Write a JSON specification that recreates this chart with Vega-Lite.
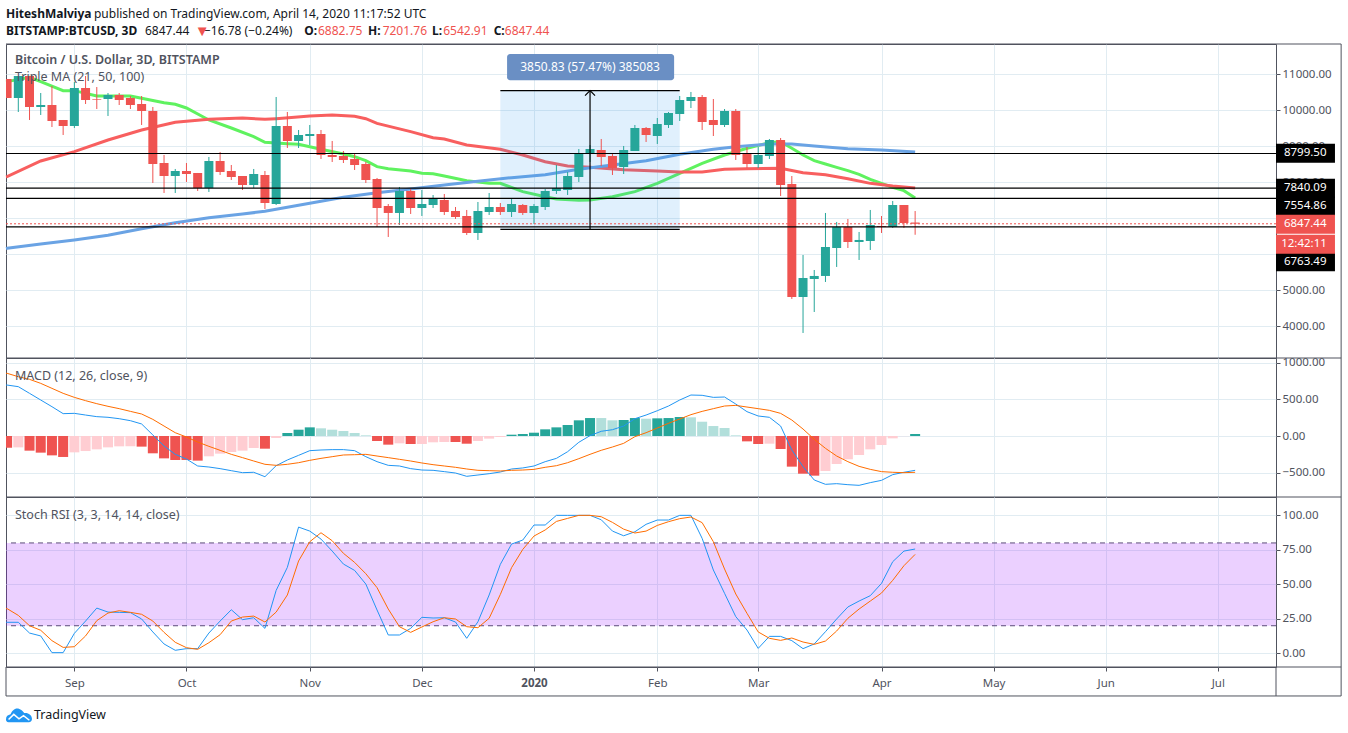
{
  "$schema": "https://vega.github.io/schema/vega-lite/v6.json",
  "background": "white",
  "padding": {"left": -1, "top": 7, "right": 0, "bottom": 0},
  "config": {
    "view": {"stroke": "#50535e", "strokeWidth": 1},
    "text": {"font": "Noto Sans"},
    "axis": {"labelFont": "Noto Sans", "labelFontSize": 11.5, "labelColor": "#50535e", "gridColor": "#e1ecf2", "gridWidth": 1, "tickColor": "#50535e", "tickSize": 4}
  },
  "datasets": {
    "candles": [
      {"i":0,"o":10870,"h":10870,"l":10342,"c":10342,"dir":"down"},
      {"i":1,"o":10342,"h":10953,"l":9953,"c":10953,"dir":"up"},
      {"i":2,"o":10953,"h":10953,"l":9731,"c":10092,"dir":"down"},
      {"i":3,"o":10092,"h":10481,"l":9870,"c":10147,"dir":"up"},
      {"i":4,"o":10147,"h":10675,"l":9536,"c":9703,"dir":"down"},
      {"i":5,"o":9731,"h":9731,"l":9314,"c":9564,"dir":"down"},
      {"i":6,"o":9564,"h":10786,"l":9509,"c":10620,"dir":"up"},
      {"i":7,"o":10620,"h":10953,"l":10175,"c":10286,"dir":"down"},
      {"i":8,"o":10314,"h":10647,"l":10036,"c":10296,"dir":"down"},
      {"i":9,"o":10314,"h":10481,"l":9842,"c":10425,"dir":"up"},
      {"i":10,"o":10425,"h":10481,"l":10147,"c":10286,"dir":"down"},
      {"i":11,"o":10342,"h":10397,"l":10036,"c":10147,"dir":"down"},
      {"i":12,"o":10175,"h":10397,"l":9592,"c":9981,"dir":"down"},
      {"i":13,"o":9981,"h":10092,"l":7981,"c":8509,"dir":"down"},
      {"i":14,"o":8536,"h":8759,"l":7703,"c":8175,"dir":"down"},
      {"i":15,"o":8175,"h":8370,"l":7703,"c":8314,"dir":"up"},
      {"i":16,"o":8314,"h":8536,"l":8009,"c":8231,"dir":"down"},
      {"i":17,"o":8259,"h":8259,"l":7759,"c":7842,"dir":"down"},
      {"i":18,"o":7842,"h":8703,"l":7731,"c":8592,"dir":"up"},
      {"i":19,"o":8592,"h":8842,"l":8203,"c":8286,"dir":"down"},
      {"i":20,"o":8314,"h":8481,"l":8064,"c":8147,"dir":"down"},
      {"i":21,"o":8175,"h":8175,"l":7786,"c":7925,"dir":"down"},
      {"i":22,"o":7925,"h":8370,"l":7842,"c":8231,"dir":"up"},
      {"i":23,"o":8203,"h":8314,"l":7259,"c":7425,"dir":"down"},
      {"i":24,"o":7397,"h":10370,"l":7370,"c":9564,"dir":"up"},
      {"i":25,"o":9564,"h":9953,"l":8953,"c":9148,"dir":"down"},
      {"i":26,"o":9148,"h":9453,"l":8953,"c":9314,"dir":"up"},
      {"i":27,"o":9286,"h":9592,"l":9036,"c":9342,"dir":"up"},
      {"i":28,"o":9342,"h":9453,"l":8648,"c":8759,"dir":"down"},
      {"i":29,"o":8759,"h":9148,"l":8564,"c":8703,"dir":"down"},
      {"i":30,"o":8731,"h":8870,"l":8536,"c":8620,"dir":"down"},
      {"i":31,"o":8648,"h":8814,"l":8342,"c":8481,"dir":"down"},
      {"i":32,"o":8509,"h":8564,"l":7981,"c":8064,"dir":"down"},
      {"i":33,"o":8092,"h":8120,"l":6759,"c":7286,"dir":"down"},
      {"i":34,"o":7342,"h":7397,"l":6481,"c":7148,"dir":"down"},
      {"i":35,"o":7148,"h":7870,"l":6814,"c":7759,"dir":"up"},
      {"i":36,"o":7759,"h":7814,"l":7120,"c":7286,"dir":"down"},
      {"i":37,"o":7286,"h":7786,"l":7064,"c":7397,"dir":"up"},
      {"i":38,"o":7370,"h":7647,"l":7286,"c":7536,"dir":"up"},
      {"i":39,"o":7509,"h":7675,"l":7092,"c":7175,"dir":"down"},
      {"i":40,"o":7203,"h":7314,"l":6981,"c":7036,"dir":"down"},
      {"i":41,"o":7064,"h":7231,"l":6536,"c":6592,"dir":"down"},
      {"i":42,"o":6592,"h":7453,"l":6398,"c":7203,"dir":"up"},
      {"i":43,"o":7175,"h":7703,"l":7092,"c":7314,"dir":"up"},
      {"i":44,"o":7314,"h":7425,"l":7092,"c":7175,"dir":"down"},
      {"i":45,"o":7175,"h":7536,"l":7036,"c":7397,"dir":"up"},
      {"i":46,"o":7370,"h":7397,"l":7092,"c":7148,"dir":"down"},
      {"i":47,"o":7148,"h":7397,"l":6842,"c":7342,"dir":"up"},
      {"i":48,"o":7314,"h":7814,"l":7231,"c":7759,"dir":"up"},
      {"i":49,"o":7759,"h":8481,"l":7675,"c":7842,"dir":"up"},
      {"i":50,"o":7786,"h":8286,"l":7647,"c":8175,"dir":"up"},
      {"i":51,"o":8147,"h":8925,"l":8009,"c":8814,"dir":"up"},
      {"i":52,"o":8786,"h":9036,"l":8564,"c":8925,"dir":"up"},
      {"i":53,"o":8897,"h":9203,"l":8453,"c":8703,"dir":"down"},
      {"i":54,"o":8731,"h":8786,"l":8203,"c":8397,"dir":"down"},
      {"i":55,"o":8425,"h":9009,"l":8231,"c":8897,"dir":"up"},
      {"i":56,"o":8870,"h":9592,"l":8870,"c":9509,"dir":"up"},
      {"i":57,"o":9509,"h":9536,"l":9120,"c":9314,"dir":"down"},
      {"i":58,"o":9286,"h":9786,"l":9064,"c":9620,"dir":"up"},
      {"i":59,"o":9592,"h":9953,"l":9509,"c":9925,"dir":"up"},
      {"i":60,"o":9898,"h":10397,"l":9703,"c":10286,"dir":"up"},
      {"i":61,"o":10259,"h":10509,"l":10064,"c":10370,"dir":"up"},
      {"i":62,"o":10370,"h":10425,"l":9453,"c":9675,"dir":"down"},
      {"i":63,"o":9731,"h":10314,"l":9286,"c":9592,"dir":"down"},
      {"i":64,"o":9592,"h":10036,"l":9536,"c":9981,"dir":"up"},
      {"i":65,"o":9981,"h":10036,"l":8620,"c":8759,"dir":"down"},
      {"i":66,"o":8786,"h":8981,"l":8397,"c":8509,"dir":"down"},
      {"i":67,"o":8509,"h":8981,"l":8397,"c":8759,"dir":"up"},
      {"i":68,"o":8731,"h":9203,"l":8648,"c":9175,"dir":"up"},
      {"i":69,"o":9175,"h":9231,"l":7620,"c":7925,"dir":"down"},
      {"i":70,"o":7953,"h":8175,"l":4759,"c":4814,"dir":"down"},
      {"i":71,"o":4814,"h":5981,"l":3814,"c":5342,"dir":"up"},
      {"i":72,"o":5314,"h":5564,"l":4397,"c":5398,"dir":"up"},
      {"i":73,"o":5398,"h":7148,"l":5231,"c":6203,"dir":"up"},
      {"i":74,"o":6175,"h":6898,"l":5648,"c":6759,"dir":"up"},
      {"i":75,"o":6759,"h":6981,"l":6175,"c":6342,"dir":"down"},
      {"i":76,"o":6342,"h":6620,"l":5842,"c":6398,"dir":"up"},
      {"i":77,"o":6370,"h":7231,"l":6120,"c":6814,"dir":"up"},
      {"i":78,"o":6786,"h":7064,"l":6592,"c":6759,"dir":"down"},
      {"i":79,"o":6759,"h":7481,"l":6731,"c":7370,"dir":"up"},
      {"i":80,"o":7370,"h":7370,"l":6731,"c":6870,"dir":"down"},
      {"i":81,"o":6882.75,"h":7201.76,"l":6542.91,"c":6847.44,"dir":"down"}
    ],
    "ma": [
      {"i":-0.098,"ma":"21","v":10790},{"i":0,"ma":"21","v":10796},{"i":2,"ma":"21","v":10916},{"i":3,"ma":"21","v":10796},{"i":5,"ma":"21","v":10546},{"i":6,"ma":"21","v":10546},{"i":8,"ma":"21","v":10397},{"i":11,"ma":"21","v":10397},{"i":12,"ma":"21","v":10333},{"i":14,"ma":"21","v":10212},{"i":15,"ma":"21","v":10166},{"i":16,"ma":"21","v":10064},{"i":18,"ma":"21","v":9731},{"i":20,"ma":"21","v":9509},{"i":22,"ma":"21","v":9268},{"i":23,"ma":"21","v":9110},{"i":25,"ma":"21","v":9073},{"i":26,"ma":"21","v":9055},{"i":28,"ma":"21","v":8916},{"i":30,"ma":"21","v":8786},{"i":31,"ma":"21","v":8712},{"i":32,"ma":"21","v":8601},{"i":33,"ma":"21","v":8435},{"i":34,"ma":"21","v":8379},{"i":36,"ma":"21","v":8314},{"i":37,"ma":"21","v":8249},{"i":38,"ma":"21","v":8240},{"i":39,"ma":"21","v":8175},{"i":41,"ma":"21","v":8046},{"i":43,"ma":"21","v":7971},{"i":44,"ma":"21","v":7971},{"i":46,"ma":"21","v":7740},{"i":48,"ma":"21","v":7601},{"i":49,"ma":"21","v":7536},{"i":51,"ma":"21","v":7499},{"i":52,"ma":"21","v":7509},{"i":54,"ma":"21","v":7601},{"i":56,"ma":"21","v":7740},{"i":58,"ma":"21","v":7971},{"i":60,"ma":"21","v":8249},{"i":62,"ma":"21","v":8527},{"i":64,"ma":"21","v":8759},{"i":66,"ma":"21","v":8944},{"i":68,"ma":"21","v":9101},{"i":69,"ma":"21","v":9129},{"i":70,"ma":"21","v":8944},{"i":71,"ma":"21","v":8759},{"i":72,"ma":"21","v":8601},{"i":73,"ma":"21","v":8509},{"i":74,"ma":"21","v":8416},{"i":75,"ma":"21","v":8323},{"i":76,"ma":"21","v":8222},{"i":77,"ma":"21","v":8083},{"i":78,"ma":"21","v":7971},{"i":79,"ma":"21","v":7861},{"i":80,"ma":"21","v":7768},{"i":81,"ma":"21","v":7564},
      {"i":-0.098,"ma":"50","v":8150},{"i":0,"ma":"50","v":8157},{"i":3,"ma":"50","v":8592},{"i":6,"ma":"50","v":8851},{"i":9,"ma":"50","v":9175},{"i":12,"ma":"50","v":9453},{"i":15,"ma":"50","v":9666},{"i":18,"ma":"50","v":9749},{"i":21,"ma":"50","v":9786},{"i":23,"ma":"50","v":9749},{"i":24,"ma":"50","v":9768},{"i":27,"ma":"50","v":9842},{"i":29,"ma":"50","v":9870},{"i":31,"ma":"50","v":9833},{"i":32,"ma":"50","v":9768},{"i":33,"ma":"50","v":9638},{"i":36,"ma":"50","v":9407},{"i":38,"ma":"50","v":9240},{"i":39,"ma":"50","v":9203},{"i":41,"ma":"50","v":9036},{"i":44,"ma":"50","v":8916},{"i":46,"ma":"50","v":8759},{"i":48,"ma":"50","v":8573},{"i":50,"ma":"50","v":8453},{"i":52,"ma":"50","v":8416},{"i":55,"ma":"50","v":8351},{"i":58,"ma":"50","v":8314},{"i":60,"ma":"50","v":8286},{"i":62,"ma":"50","v":8286},{"i":64,"ma":"50","v":8361},{"i":66,"ma":"50","v":8379},{"i":69,"ma":"50","v":8388},{"i":71,"ma":"50","v":8268},{"i":73,"ma":"50","v":8212},{"i":75,"ma":"50","v":8101},{"i":77,"ma":"50","v":7971},{"i":79,"ma":"50","v":7897},{"i":81,"ma":"50","v":7842},
      {"i":-0.098,"ma":"100","v":6160},{"i":0,"ma":"100","v":6166},{"i":3,"ma":"100","v":6287},{"i":6,"ma":"100","v":6398},{"i":9,"ma":"100","v":6527},{"i":12,"ma":"100","v":6712},{"i":15,"ma":"100","v":6879},{"i":18,"ma":"100","v":7018},{"i":21,"ma":"100","v":7120},{"i":23,"ma":"100","v":7194},{"i":27,"ma":"100","v":7416},{"i":30,"ma":"100","v":7583},{"i":33,"ma":"100","v":7712},{"i":36,"ma":"100","v":7814},{"i":39,"ma":"100","v":7925},{"i":42,"ma":"100","v":8027},{"i":45,"ma":"100","v":8129},{"i":48,"ma":"100","v":8212},{"i":51,"ma":"100","v":8361},{"i":54,"ma":"100","v":8481},{"i":57,"ma":"100","v":8601},{"i":60,"ma":"100","v":8777},{"i":63,"ma":"100","v":8916},{"i":65,"ma":"100","v":8990},{"i":68,"ma":"100","v":9064},{"i":70,"ma":"100","v":9064},{"i":72,"ma":"100","v":9009},{"i":75,"ma":"100","v":8935},{"i":78,"ma":"100","v":8897},{"i":81,"ma":"100","v":8842}
    ],
    "levels": [{"price":8799.5},{"price":7840.09},{"price":7554.86},{"price":6763.49}],
    "last": [{"price":6847.44}],
    "measure": [{"from":44,"to":60,"low":6694,"high":10545,"mid":52}],
    "measureBox": [{"from":44.6,"to":59.5,"low":10833,"high":11564,"mid":52,"price":11198,"label":"3850.83 (57.47%) 385083"}],
    "tags": [
      {"i":113.19,"to":118.45,"tx":113.9,"at":8805,"label":"8799.50","kind":"level"},
      {"i":113.19,"to":118.45,"tx":113.9,"at":7833,"label":"7840.09","kind":"level"},
      {"i":113.19,"to":118.45,"tx":113.9,"at":7333,"label":"7554.86","kind":"level"},
      {"i":113.19,"to":118.45,"tx":113.9,"at":5796,"label":"6763.49","kind":"level"},
      {"i":113.19,"to":118.45,"tx":113.9,"at":6833,"label":"6847.44","kind":"last"},
      {"i":113.19,"to":118.45,"tx":113.65,"at":6277,"label":"12:42:11","kind":"last"}
    ],
    "headerBold": [
      {"label":"HiteshMalviya","i":-0.1,"price":12675,"kind":"dark"},
      {"label":"BITSTAMP:BTCUSD, 3D","i":-0.1,"price":12217,"kind":"dark"},
      {"label":"O:","i":26.5,"price":12217,"kind":"dark"},
      {"label":"H:","i":32.2,"price":12217,"kind":"dark"},
      {"label":"L:","i":37.9,"price":12217,"kind":"dark"},
      {"label":"C:","i":43.4,"price":12217,"kind":"dark"}
    ],
    "headerLine": [
      {"label":"published on TradingView.com, April 14, 2020 11:17:52 UTC","i":7.75,"price":12675}
    ],
    "headerPlain": [
      {"label":"6847.44","i":12.3,"price":12217,"kind":"dark"},
      {"label":"−16.78 (−0.24%)","i":17.56,"price":12217,"kind":"dark"},
      {"label":"6882.75","i":27.73,"price":12217,"kind":"red"},
      {"label":"7201.76","i":33.5,"price":12217,"kind":"red"},
      {"label":"6542.91","i":38.9,"price":12217,"kind":"red"},
      {"label":"6847.44","i":44.4,"price":12217,"kind":"red"}
    ],
    "hist": [
      {"i":0,"h":-159,"s":"fall"},{"i":1,"h":-155,"s":"ease"},{"i":2,"h":-200,"s":"fall"},{"i":3,"h":-227,"s":"fall"},{"i":4,"h":-264,"s":"fall"},{"i":5,"h":-286,"s":"fall"},{"i":6,"h":-223,"s":"ease"},{"i":7,"h":-205,"s":"ease"},{"i":8,"h":-182,"s":"ease"},{"i":9,"h":-155,"s":"ease"},{"i":10,"h":-141,"s":"ease"},{"i":11,"h":-141,"s":"ease"},{"i":12,"h":-145,"s":"fall"},{"i":13,"h":-236,"s":"fall"},{"i":14,"h":-305,"s":"fall"},{"i":15,"h":-327,"s":"fall"},{"i":16,"h":-327,"s":"fall"},{"i":17,"h":-336,"s":"fall"},{"i":18,"h":-277,"s":"ease"},{"i":19,"h":-241,"s":"ease"},{"i":20,"h":-218,"s":"ease"},{"i":21,"h":-200,"s":"ease"},{"i":22,"h":-164,"s":"ease"},{"i":23,"h":-173,"s":"fall"},{"i":24,"h":-27,"s":"ease"},{"i":25,"h":41,"s":"rise"},{"i":26,"h":86,"s":"rise"},{"i":27,"h":118,"s":"rise"},{"i":28,"h":105,"s":"fade"},{"i":29,"h":86,"s":"fade"},{"i":30,"h":68,"s":"fade"},{"i":31,"h":41,"s":"fade"},{"i":32,"h":9,"s":"fade"},{"i":33,"h":-68,"s":"fall"},{"i":34,"h":-118,"s":"fall"},{"i":35,"h":-100,"s":"ease"},{"i":36,"h":-109,"s":"fall"},{"i":37,"h":-109,"s":"ease"},{"i":38,"h":-86,"s":"ease"},{"i":39,"h":-82,"s":"ease"},{"i":40,"h":-82,"s":"fall"},{"i":41,"h":-105,"s":"fall"},{"i":42,"h":-68,"s":"ease"},{"i":43,"h":-36,"s":"ease"},{"i":44,"h":-14,"s":"ease"},{"i":45,"h":18,"s":"rise"},{"i":46,"h":27,"s":"rise"},{"i":47,"h":45,"s":"rise"},{"i":48,"h":91,"s":"rise"},{"i":49,"h":118,"s":"rise"},{"i":50,"h":150,"s":"rise"},{"i":51,"h":214,"s":"rise"},{"i":52,"h":245,"s":"rise"},{"i":53,"h":245,"s":"fade"},{"i":54,"h":214,"s":"fade"},{"i":55,"h":218,"s":"rise"},{"i":56,"h":245,"s":"rise"},{"i":57,"h":236,"s":"fade"},{"i":58,"h":241,"s":"rise"},{"i":59,"h":245,"s":"rise"},{"i":60,"h":259,"s":"rise"},{"i":61,"h":255,"s":"fade"},{"i":62,"h":195,"s":"fade"},{"i":63,"h":136,"s":"fade"},{"i":64,"h":109,"s":"fade"},{"i":65,"h":9,"s":"fade"},{"i":66,"h":-73,"s":"fall"},{"i":67,"h":-109,"s":"fall"},{"i":68,"h":-105,"s":"ease"},{"i":69,"h":-177,"s":"fall"},{"i":70,"h":-418,"s":"fall"},{"i":71,"h":-514,"s":"fall"},{"i":72,"h":-541,"s":"fall"},{"i":73,"h":-477,"s":"ease"},{"i":74,"h":-382,"s":"ease"},{"i":75,"h":-318,"s":"ease"},{"i":76,"h":-259,"s":"ease"},{"i":77,"h":-182,"s":"ease"},{"i":78,"h":-123,"s":"ease"},{"i":79,"h":-32,"s":"ease"},{"i":80,"h":-2,"s":"ease"},{"i":81,"h":27,"s":"rise"}
    ],
    "macd": [
      {"i":-0.098,"m":695,"sig":855},{"i":0,"m":695,"sig":855},{"i":1,"m":673,"sig":809},{"i":2,"m":582,"sig":773},{"i":3,"m":491,"sig":718},{"i":4,"m":400,"sig":650},{"i":5,"m":305,"sig":582},{"i":6,"m":309,"sig":527},{"i":7,"m":286,"sig":482},{"i":8,"m":264,"sig":441},{"i":9,"m":255,"sig":405},{"i":10,"m":236,"sig":373},{"i":11,"m":209,"sig":336},{"i":12,"m":164,"sig":300},{"i":13,"m":14,"sig":227},{"i":14,"m":-136,"sig":136},{"i":15,"m":-250,"sig":45},{"i":16,"m":-314,"sig":-14},{"i":17,"m":-409,"sig":-82},{"i":18,"m":-423,"sig":-141},{"i":19,"m":-445,"sig":-195},{"i":20,"m":-473,"sig":-250},{"i":21,"m":-500,"sig":-295},{"i":22,"m":-495,"sig":-341},{"i":23,"m":-555,"sig":-386},{"i":24,"m":-405,"sig":-400},{"i":25,"m":-327,"sig":-386},{"i":26,"m":-264,"sig":-364},{"i":27,"m":-200,"sig":-332},{"i":28,"m":-191,"sig":-305},{"i":29,"m":-186,"sig":-282},{"i":30,"m":-186,"sig":-259},{"i":31,"m":-200,"sig":-255},{"i":32,"m":-282,"sig":-250},{"i":33,"m":-350,"sig":-273},{"i":34,"m":-400,"sig":-295},{"i":35,"m":-409,"sig":-318},{"i":36,"m":-445,"sig":-341},{"i":37,"m":-464,"sig":-368},{"i":38,"m":-468,"sig":-391},{"i":39,"m":-486,"sig":-409},{"i":40,"m":-505,"sig":-427},{"i":41,"m":-550,"sig":-450},{"i":42,"m":-532,"sig":-468},{"i":43,"m":-514,"sig":-473},{"i":44,"m":-491,"sig":-477},{"i":45,"m":-450,"sig":-468},{"i":46,"m":-436,"sig":-464},{"i":47,"m":-409,"sig":-455},{"i":48,"m":-350,"sig":-427},{"i":49,"m":-305,"sig":-405},{"i":50,"m":-214,"sig":-364},{"i":51,"m":-86,"sig":-309},{"i":52,"m":5,"sig":-250},{"i":53,"m":64,"sig":-195},{"i":54,"m":86,"sig":-150},{"i":55,"m":136,"sig":-100},{"i":56,"m":236,"sig":-9},{"i":57,"m":286,"sig":45},{"i":58,"m":345,"sig":109},{"i":59,"m":409,"sig":173},{"i":60,"m":491,"sig":232},{"i":61,"m":559,"sig":291},{"i":62,"m":555,"sig":336},{"i":63,"m":527,"sig":373},{"i":64,"m":532,"sig":409},{"i":65,"m":436,"sig":418},{"i":66,"m":332,"sig":395},{"i":67,"m":273,"sig":373},{"i":68,"m":255,"sig":350},{"i":69,"m":136,"sig":309},{"i":70,"m":-191,"sig":218},{"i":71,"m":-418,"sig":95},{"i":72,"m":-600,"sig":-45},{"i":73,"m":-659,"sig":-168},{"i":74,"m":-650,"sig":-273},{"i":75,"m":-664,"sig":-350},{"i":76,"m":-673,"sig":-414},{"i":77,"m":-636,"sig":-455},{"i":78,"m":-605,"sig":-486},{"i":79,"m":-527,"sig":-495},{"i":80,"m":-495,"sig":-500},{"i":81,"m":-468,"sig":-495}
    ],
    "stoch": [
      {"i":-0.098,"k":22.5,"d":32.4},{"i":0,"k":22.5,"d":32.4},{"i":1,"k":22.5,"d":27.5},{"i":2,"k":14.7,"d":20},{"i":3,"k":12.6,"d":16.7},{"i":4,"k":0.5,"d":9.2},{"i":5,"k":0.5,"d":4.3},{"i":6,"k":14.5,"d":4.8},{"i":7,"k":23.4,"d":12.6},{"i":8,"k":32.8,"d":23.7},{"i":9,"k":29.9,"d":29.2},{"i":10,"k":29.7,"d":30.9},{"i":11,"k":29.5,"d":29.7},{"i":12,"k":24.9,"d":28.3},{"i":13,"k":15.5,"d":23.4},{"i":14,"k":6.8,"d":15.2},{"i":15,"k":2.2,"d":8},{"i":16,"k":3.4,"d":4.1},{"i":17,"k":3.4,"d":2.9},{"i":18,"k":14.7,"d":7.7},{"i":19,"k":23.4,"d":13.5},{"i":20,"k":31.6,"d":23.4},{"i":21,"k":24.4,"d":26.3},{"i":22,"k":25.8,"d":27},{"i":23,"k":18.1,"d":22.7},{"i":24,"k":45.6,"d":29.9},{"i":25,"k":62.3,"d":42.3},{"i":26,"k":91.5,"d":66.9},{"i":27,"k":88.6,"d":80.9},{"i":28,"k":82.8,"d":87.4},{"i":29,"k":74.1,"d":81.6},{"i":30,"k":64.7,"d":72.5},{"i":31,"k":60.1,"d":65.9},{"i":32,"k":50.2,"d":57.7},{"i":33,"k":31.4,"d":47.6},{"i":34,"k":13.3,"d":32.1},{"i":35,"k":13.3,"d":19.3},{"i":36,"k":18.1,"d":15.2},{"i":37,"k":26.1,"d":19.1},{"i":38,"k":25.6,"d":22.9},{"i":39,"k":25.8,"d":25.8},{"i":40,"k":22.7,"d":24.9},{"i":41,"k":10.9,"d":19.3},{"i":42,"k":22.9,"d":18.6},{"i":43,"k":42.3,"d":25.4},{"i":44,"k":64.5,"d":42.7},{"i":45,"k":79.2,"d":62.1},{"i":46,"k":82.1,"d":75.3},{"i":47,"k":93,"d":85},{"i":48,"k":93,"d":89.4},{"i":49,"k":100,"d":95.6},{"i":50,"k":100,"d":97.8},{"i":51,"k":100,"d":100},{"i":52,"k":100,"d":100},{"i":53,"k":96.8,"d":99},{"i":54,"k":88.6,"d":94.9},{"i":55,"k":85.2,"d":90},{"i":56,"k":88.1,"d":87.2},{"i":57,"k":93.5,"d":88.6},{"i":58,"k":96.6,"d":92.7},{"i":59,"k":96.6,"d":95.4},{"i":60,"k":100,"d":97.6},{"i":61,"k":100,"d":98.8},{"i":62,"k":83.3,"d":94.7},{"i":63,"k":60.4,"d":80.9},{"i":64,"k":43.5,"d":61.1},{"i":65,"k":26.6,"d":43},{"i":66,"k":16.9,"d":29},{"i":67,"k":3.6,"d":15.5},{"i":68,"k":12.3,"d":10.9},{"i":69,"k":12.3,"d":9.4},{"i":70,"k":9.2,"d":11.1},{"i":71,"k":3.4,"d":8.2},{"i":72,"k":6.8,"d":6.5},{"i":73,"k":15.7,"d":8.9},{"i":74,"k":24.9,"d":16.2},{"i":75,"k":33.6,"d":25.4},{"i":76,"k":37.9,"d":32.1},{"i":77,"k":41.8,"d":37.9},{"i":78,"k":50.7,"d":43.7},{"i":79,"k":66.4,"d":52.9},{"i":80,"k":74.1,"d":63.5},{"i":81,"k":75.6,"d":71.7}
    ]
  },
  "resolve": {"scale": {"color": "independent"}},
  "spacing": 0,
  "bounds": "flush",
  "vconcat": [
    {
      "width": 1270,
      "height": 314,
      "resolve": {"scale": {"color": "independent"}},
      "encoding": {
        "x": {"field": "i", "type": "quantitative", "title": null, "scale": {"domain": [-0.098, 113.19], "nice": false, "zero": false, "padding": 0},
          "axis": {"values": [6,16,27,37,47,58,67,78,88,98,108], "labels": false, "ticks": false, "domain": false, "grid": true}},
        "y": {"field": "price", "type": "quantitative", "title": null, "scale": {"domain": [3119, 11842], "nice": false, "zero": false},
          "axis": {"orient": "right", "values": [4000,5000,6000,7000,8000,9000,10000,11000], "format": ".2f", "domain": false, "grid": true}}
      },
      "layer": [
        {"data": {"name": "ma"}, "mark": {"type": "line", "strokeWidth": 3},
          "encoding": {"y": {"field": "v", "type": "quantitative", "title": null},
            "color": {"field": "ma", "type": "nominal", "legend": null, "scale": {"domain": ["21","50","100"], "range": ["#5ff25f","#f85f5f","#6aa3e4"]}}}},
        {"data": {"name": "measure"}, "mark": {"type": "rect", "fill": "#2196f3", "opacity": 0.14},
          "encoding": {"x": {"field": "from", "type": "quantitative", "title": null}, "x2": {"field": "to"}, "y": {"field": "low", "type": "quantitative", "title": null}, "y2": {"field": "high"}}},
        {"data": {"name": "candles"}, "mark": {"type": "rule", "strokeWidth": 1},
          "encoding": {"y": {"field": "l", "type": "quantitative", "title": null}, "y2": {"field": "h"},
            "color": {"field": "dir", "type": "nominal", "legend": null, "scale": {"domain": ["up","down"], "range": ["#26a69a","#ef5350"]}}}},
        {"data": {"name": "candles"}, "mark": {"type": "bar", "size": 9, "orient": "vertical", "clip": true},
          "encoding": {"y": {"field": "o", "type": "quantitative", "title": null}, "y2": {"field": "c"},
            "color": {"field": "dir", "type": "nominal", "legend": null, "scale": {"domain": ["up","down"], "range": ["#26a69a","#ef5350"]}}}},
        {"data": {"name": "levels"}, "mark": {"type": "rule", "color": "black", "strokeWidth": 1.2},
          "encoding": {"x": null}},
        {"data": {"name": "last"}, "mark": {"type": "rule", "color": "#ef5350", "strokeWidth": 1, "strokeDash": [2,2]},
          "encoding": {"x": null}},
        {"data": {"name": "measure"}, "mark": {"type": "rule", "color": "black", "strokeWidth": 1.2},
          "encoding": {"x": {"field": "from", "type": "quantitative", "title": null}, "x2": {"field": "to"}, "y": {"field": "high", "type": "quantitative", "title": null}}},
        {"data": {"name": "measure"}, "mark": {"type": "rule", "color": "black", "strokeWidth": 1.2},
          "encoding": {"x": {"field": "from", "type": "quantitative", "title": null}, "x2": {"field": "to"}, "y": {"field": "low", "type": "quantitative", "title": null}}},
        {"data": {"name": "measure"}, "mark": {"type": "rule", "color": "black", "strokeWidth": 1.2},
          "encoding": {"x": {"field": "mid", "type": "quantitative", "title": null}, "y": {"field": "low", "type": "quantitative", "title": null}, "y2": {"field": "high"}}},
        {"data": {"name": "measure"}, "mark": {"type": "point", "shape": "M-1,1L0,0L1,1", "filled": false, "stroke": "black", "strokeWidth": 1.2, "size": 100, "opacity": 1},
          "encoding": {"x": {"field": "mid", "type": "quantitative", "title": null}, "y": {"field": "high", "type": "quantitative", "title": null}}},
        {"data": {"name": "measureBox"}, "mark": {"type": "rect", "fill": "#6a8fc4", "cornerRadius": 3},
          "encoding": {"x": {"field": "from", "type": "quantitative", "title": null}, "x2": {"field": "to"}, "y": {"field": "low", "type": "quantitative", "title": null}, "y2": {"field": "high"}}},
        {"data": {"name": "measureBox"}, "mark": {"type": "text", "color": "white", "fontSize": 12, "align": "center", "baseline": "middle"},
          "encoding": {"x": {"field": "mid", "type": "quantitative", "title": null}, "y": {"field": "price", "type": "quantitative", "title": null}, "text": {"field": "label"}}},
        {"data": {"name": "tags"}, "mark": {"type": "rect", "height": 19},
          "encoding": {"x2": {"field": "to"}, "y": {"field": "at", "type": "quantitative", "title": null},
            "color": {"field": "kind", "type": "nominal", "legend": null, "scale": {"domain": ["level","last"], "range": ["black","#ef5350"]}}}},
        {"data": {"name": "tags"}, "mark": {"type": "text", "color": "white", "fontSize": 11.5, "align": "left", "baseline": "middle"},
          "encoding": {"x": {"field": "tx", "type": "quantitative", "title": null}, "y": {"field": "at", "type": "quantitative", "title": null}, "text": {"field": "label"}}},
        {"data": {"values": [{"label": "Bitcoin / U.S. Dollar, 3D, BITSTAMP", "i": 0.7, "price": 11397}]}, "mark": {"type": "text", "color": "#50535e", "fontSize": 12.5, "fontWeight": 600, "align": "left", "baseline": "middle"},
          "encoding": {"text": {"field": "label"}}},
        {"data": {"values": [{"label": "Triple MA (21, 50, 100)", "i": 0.7, "price": 10925}]}, "mark": {"type": "text", "color": "#50535e", "fontSize": 12.5, "align": "left", "baseline": "middle"},
          "encoding": {"text": {"field": "label"}}},
        {"data": {"name": "headerBold"}, "mark": {"type": "text", "fontSize": 12, "fontWeight": "bold", "align": "left", "baseline": "middle", "color": "#131722"},
          "encoding": {"text": {"field": "label"}}},
        {"data": {"name": "headerLine"}, "mark": {"type": "text", "fontSize": 12, "align": "left", "baseline": "middle", "color": "#131722"},
          "encoding": {"text": {"field": "label"}}},
        {"data": {"name": "headerPlain"}, "mark": {"type": "text", "fontSize": 12, "align": "left", "baseline": "middle"},
          "encoding": {"text": {"field": "label"},
            "color": {"field": "kind", "type": "nominal", "legend": null, "scale": {"domain": ["dark","red"], "range": ["#131722","#ef5350"]}}}},
        {"data": {"values": [{"label": "▼", "i": 16.75, "price": 12217}]}, "mark": {"type": "text", "color": "#ef5350", "fontSize": 15, "align": "left", "baseline": "middle"},
          "encoding": {"text": {"field": "label"}}},
        {"data": {"values": [{"i": -0.098, "to": 119, "edge": 11842}, {"i": -0.098, "to": 119, "edge": 3119}]}, "mark": {"type": "rule", "color": "#50535e"},
          "encoding": {"x2": {"field": "to"}, "y": {"field": "edge", "type": "quantitative", "title": null}}},
        {"data": {"values": [{"i": 119, "low": 3119, "high": 11842}]}, "mark": {"type": "rule", "color": "#50535e"},
          "encoding": {"y": {"field": "low", "type": "quantitative", "title": null}, "y2": {"field": "high"}}}
      ]
    },
    {
      "width": 1270,
      "height": 139,
      "encoding": {
        "x": {"field": "i", "type": "quantitative", "title": null, "scale": {"domain": [-0.098, 113.19], "nice": false, "zero": false, "padding": 0},
          "axis": {"values": [6,16,27,37,47,58,67,78,88,98,108], "labels": false, "ticks": false, "domain": false, "grid": true}},
        "y": {"field": "h", "type": "quantitative", "title": null, "scale": {"domain": [-832, 1064], "nice": false, "zero": false},
          "axis": {"orient": "right", "values": [-500,0,500,1000], "format": ".2f", "domain": false, "grid": true}}
      },
      "layer": [
        {"data": {"name": "hist"}, "mark": {"type": "bar", "size": 10, "orient": "vertical", "clip": true},
          "encoding": {"color": {"field": "s", "type": "nominal", "legend": null, "scale": {"domain": ["rise","fade","fall","ease"], "range": ["#26a69a","#b2dfdb","#ef5350","#ffcdd2"]}}}},
        {"data": {"name": "macd"}, "mark": {"type": "line", "color": "#2196f3", "strokeWidth": 1},
          "encoding": {"y": {"field": "m", "type": "quantitative", "title": null}}},
        {"data": {"name": "macd"}, "mark": {"type": "line", "color": "#ff6d00", "strokeWidth": 1},
          "encoding": {"y": {"field": "sig", "type": "quantitative", "title": null}}},
        {"data": {"values": [{"label": "MACD (12, 26, close, 9)", "i": 0.7, "h": 822}]}, "mark": {"type": "text", "color": "#50535e", "fontSize": 12.5, "align": "left", "baseline": "middle"},
          "encoding": {"text": {"field": "label"}}},
        {"data": {"values": [{"i": -0.098, "to": 119, "edge": -832}]}, "mark": {"type": "rule", "color": "#50535e"},
          "encoding": {"x2": {"field": "to"}, "y": {"field": "edge", "type": "quantitative", "title": null}}},
        {"data": {"values": [{"i": 119, "low": -832, "high": 1064}]}, "mark": {"type": "rule", "color": "#50535e"},
          "encoding": {"y": {"field": "low", "type": "quantitative", "title": null}, "y2": {"field": "high"}}}
      ]
    },
    {
      "width": 1270,
      "height": 170,
      "encoding": {
        "x": {"field": "i", "type": "quantitative", "title": null, "scale": {"domain": [-0.098, 113.19], "nice": false, "zero": false, "padding": 0},
          "axis": {"values": [6,16,27,37,47,58,67,78,88,98,108], "labelExpr": "{'6':'Sep','16':'Oct','27':'Nov','37':'Dec','47':'2020','58':'Feb','67':'Mar','78':'Apr','88':'May','98':'Jun','108':'Jul'}[datum.value]",
            "labelFontWeight": {"condition": {"test": "datum.value === 47", "value": "bold"}, "value": "normal"}, "labelPadding": 6, "domain": false, "grid": true}},
        "y": {"field": "k", "type": "quantitative", "title": null, "scale": {"domain": [-9.9, 113.3], "nice": false, "zero": false},
          "axis": {"orient": "right", "values": [0,25,50,75,100], "format": ".2f", "domain": false, "grid": true}}
      },
      "layer": [
        {"data": {"values": [{"i": -0.098, "to": 113.19, "low": 20, "high": 80}]}, "mark": {"type": "rect", "fill": "#9915ff", "opacity": 0.2},
          "encoding": {"x2": {"field": "to"}, "y": {"field": "low", "type": "quantitative", "title": null}, "y2": {"field": "high"}}},
        {"data": {"values": [{"band": 20}, {"band": 80}]}, "mark": {"type": "rule", "color": "#5b4b7a", "strokeWidth": 1, "strokeDash": [5,4]},
          "encoding": {"x": null, "y": {"field": "band", "type": "quantitative", "title": null}}},
        {"data": {"name": "stoch"}, "mark": {"type": "line", "color": "#2196f3", "strokeWidth": 1}},
        {"data": {"name": "stoch"}, "mark": {"type": "line", "color": "#ff6d00", "strokeWidth": 1},
          "encoding": {"y": {"field": "d", "type": "quantitative", "title": null}}},
        {"data": {"values": [{"label": "Stoch RSI (3, 3, 14, 14, close)", "i": 0.7, "k": 100.4}]}, "mark": {"type": "text", "color": "#50535e", "fontSize": 12.5, "align": "left", "baseline": "middle"},
          "encoding": {"text": {"field": "label"}}},
        {"data": {"values": [{"i": -0.098, "to": 119, "edge": -9.9}, {"i": -0.098, "to": 119, "edge": -30.9}]}, "mark": {"type": "rule", "color": "#50535e"},
          "encoding": {"x2": {"field": "to"}, "y": {"field": "edge", "type": "quantitative", "title": null}}},
        {"data": {"values": [{"i": 119, "low": -30.9, "high": 113.3}]}, "mark": {"type": "rule", "color": "#50535e"},
          "encoding": {"y": {"field": "low", "type": "quantitative", "title": null}, "y2": {"field": "high"}}},
        {"data": {"values": [{"i": -0.098, "low": -30.9, "high": -9.9}, {"i": 113.19, "low": -30.9, "high": -9.9}]}, "mark": {"type": "rule", "color": "#50535e"},
          "encoding": {"y": {"field": "low", "type": "quantitative", "title": null}, "y2": {"field": "high"}}},
        {"data": {"values": [{"i": 1.06, "k": -44.7}]}, "mark": {"type": "point", "filled": true, "fill": "#2196f3", "opacity": 1, "size": 676, "shape": "M-1,0.35C-1,0.1-0.85,0-0.65,-0.05C-0.55,-0.3-0.35,-0.5-0.15,-0.5C0.1,-0.5 0.3,-0.3 0.4,-0.15C0.7,-0.2 1,0 1,0.3C1,0.45 0.9,0.55 0.75,0.55L-0.8,0.55C-0.95,0.55-1,0.45-1,0.35Z"}},
        {"data": {"values": [{"i": 1.06, "k": -44.7}]}, "mark": {"type": "point", "filled": false, "stroke": "white", "strokeWidth": 1.5, "opacity": 1, "size": 676, "shape": "M-0.8,0.35L-0.4,-0.05L0,0.3L0.35,0.05L0.8,0.4"}},
        {"data": {"values": [{"label": "TradingView", "i": 2.4, "k": -44.7}]}, "mark": {"type": "text", "color": "#131722", "fontSize": 12.5, "align": "left", "baseline": "middle"},
          "encoding": {"text": {"field": "label"}}}
      ]
    }
  ]
}
